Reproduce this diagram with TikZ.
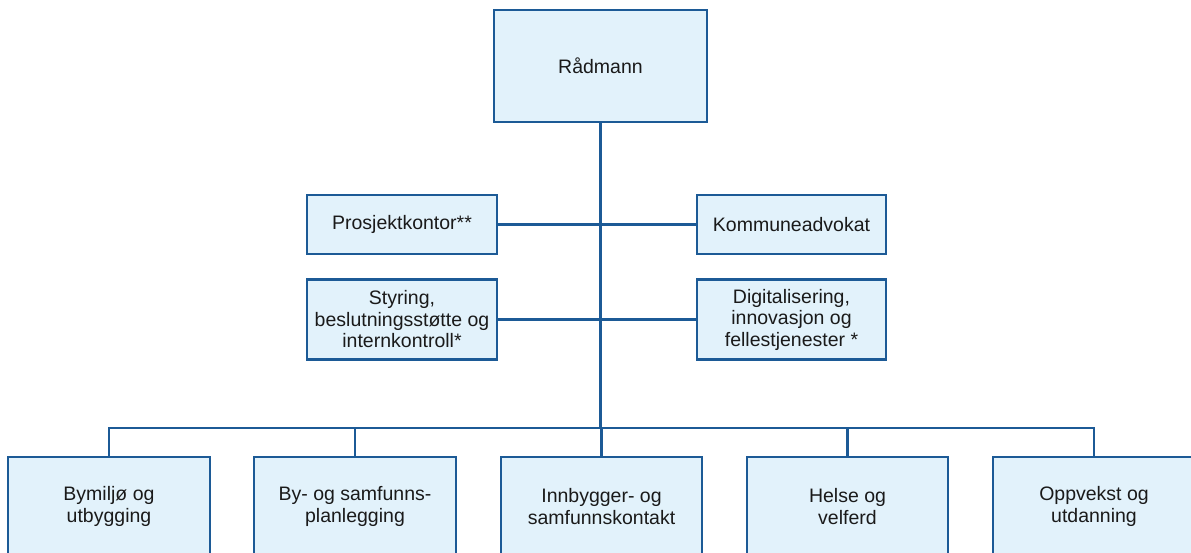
\documentclass[tikz,border=0pt]{standalone}
\usepackage{fontspec}
\setmainfont{Liberation Sans}
\definecolor{boxfill}{HTML}{E2F2FB}
\definecolor{boxline}{HTML}{1C5A96}
\definecolor{txt}{HTML}{1A1A1A}
\tikzset{
  unit/.style={draw=boxline, fill=boxfill, line width=2.4pt, text=txt,
    align=center, inner sep=0pt,
    font=\fontsize{19.5}{21.5}\selectfont},
  link/.style={draw=boxline, line width=2.2pt}
}
\begin{document}
\begin{tikzpicture}[x=1pt, y=-1pt]
\useasboundingbox (0,0) rectangle (1191,553);
\begin{scope}
\clip (0,0) rectangle (1191,553);
% head of administration
\node[unit, minimum width=213pt, minimum height=112pt] (top) at (600.5,66) {Rådmann};
% staff units
\node[unit, minimum width=190pt, minimum height=59pt] (pk) at (402,224.5) {Prosjektkontor**};
\node[unit, minimum width=189pt, minimum height=59pt] (ka) at (791.5,224.5) {Kommuneadvokat};
\node[unit, minimum width=190pt, minimum height=80pt] (st) at (402,319.5) {Styring,\\beslutningsstøtte og\\internkontroll*};
\node[unit, minimum width=189pt, minimum height=80pt] (di) at (791.5,319.5) {Digitalisering,\\innovasjon og\\fellestjenester *};
% line departments
\node[unit, minimum width=202pt, minimum height=99pt] (b1) at (109,506.5) {Bymiljø og\\utbygging};
\node[unit, minimum width=202pt, minimum height=99pt] (b2) at (355,506.5) {By- og samfunns-\\planlegging};
\node[unit, minimum width=201pt, minimum height=99pt] (b3) at (601.5,506.5) {Innbygger- og\\samfunnskontakt};
\node[unit, minimum width=201pt, minimum height=99pt] (b4) at (847.5,506.5) {Helse og\\velferd};
\node[unit, minimum width=202pt, minimum height=99pt] (b5) at (1094,506.5) {Oppvekst og\\utdanning};
\coordinate (bus) at (600,428);
% connectors
\draw[link] (top.south) -- (top.south |- bus);
\draw[link] (pk.east) -- (ka.west);
\draw[link] (st.east) -- (di.west);
\draw[link] (b1.north) -- (b1.north |- bus) -- (b5.north |- bus) -- (b5.north);
\draw[link] (b2.north) -- (b2.north |- bus);
\draw[link] (b3.north) -- (b3.north |- bus);
\draw[link] (b4.north) -- (b4.north |- bus);
\end{scope}
\end{tikzpicture}
\end{document}
